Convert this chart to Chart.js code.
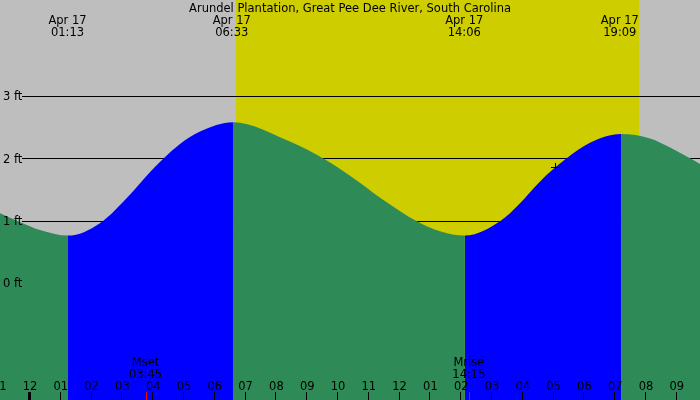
<!DOCTYPE html>
<html>
<head>
<meta charset="utf-8">
<script src="https://cdn.jsdelivr.net/npm/chart.js@4.4.0/dist/chart.umd.min.js"></script>
<style>
html, body { margin: 0; padding: 0; background: rgb(190,190,190); }
#wrap { width: 700px; height: 400px; }
</style>
</head>
<body>
<div id="wrap"><canvas id="chart" width="700" height="400"></canvas></div>
<script>
var title = 'Arundel Plantation, Great Pee Dee River, South Carolina';

// tide curve, hours since midnight Apr 17 / feet
var tideHours = [-0.974, -0.325, 0.325, 1.234, 2.27, 3.25, 3.90, 4.32, 4.87, 5.52, 6.59,
                 8.44, 9.58, 10.39, 11.45, 12.56, 13.31, 14.12,
                 15.26, 15.91, 16.56, 17.37, 18.18, 19.19, 20.13, 20.80, 21.43, 21.753];
var tideFeet  = [1.12, 0.98, 0.85, 0.76, 0.96, 1.42, 1.78, 1.99, 2.23, 2.43, 2.58,
                 2.27, 1.98, 1.72, 1.34, 0.99, 0.83, 0.76,
                 0.99, 1.28, 1.63, 1.98, 2.25, 2.39, 2.32, 2.17, 2.00, 1.91];

var extremeHours = [1.217, 6.55, 14.10, 19.15];
var extremeDates = ['Apr 17', 'Apr 17', 'Apr 17', 'Apr 17'];
var extremeTimes = ['01:13', '06:33', '14:06', '19:09'];

var sunrise = 6.69;
var sunset = 19.77;

var moonHours = [3.75, 14.25];
var moonLabels = ['Mset', 'Mrise'];
var moonTimes = ['03:45', '14:15'];

var hourTicks = [-1, 0, 1, 2, 3, 4, 5, 6, 7, 8, 9, 10, 11, 12, 13, 14, 15, 16, 17, 18, 19, 20, 21];
var hourLabels = ['11', '12', '01', '02', '03', '04', '05', '06', '07', '08', '09', '10', '11',
                  '12', '01', '02', '03', '04', '05', '06', '07', '08', '09'];

var levelTicks = [0, 1, 2, 3];
var levelLabels = ['0 ft', '1 ft', '2 ft', '3 ft'];
var levelLines = [1, 2, 3];

var nowHour = 17.05;
var nowFeet = 1.86;

var GREEN = 'rgb(46,139,87)';
var BLUE = 'rgb(0,0,255)';
var FONT = '11.5px "DejaVu Sans"';

var tidePlugin = {
    id: 'tideDecor',
    beforeDatasetsDraw(chart) {
        var ctx = chart.ctx;
        var x = chart.scales.x, y = chart.scales.y;
        var area = chart.chartArea;
        ctx.save();
        ctx.fillStyle = 'rgb(190,190,190)';
        ctx.fillRect(0, 0, chart.width, chart.height);
        // daylight
        ctx.fillStyle = 'rgb(205,205,0)';
        var sx = Math.round(x.getPixelForValue(sunrise));
        var ex = Math.round(x.getPixelForValue(sunset));
        ctx.fillRect(sx, area.top, ex - sx, area.bottom - area.top);
        // level lines
        ctx.strokeStyle = '#000';
        ctx.lineWidth = 1;
        levelLines.forEach(function(v) {
            var py = Math.round(y.getPixelForValue(v)) + 0.5;
            ctx.beginPath();
            ctx.moveTo(22, py);
            ctx.lineTo(area.right, py);
            ctx.stroke();
        });
        ctx.restore();
    },
    afterDatasetsDraw(chart) {
        var ctx = chart.ctx;
        var x = chart.scales.x, y = chart.scales.y;
        ctx.save();
        ctx.fillStyle = '#000';
        ctx.font = FONT;
        ctx.textBaseline = 'alphabetic';

        ctx.textAlign = 'center';
        ctx.fillText(title, 350, 12);

        extremeHours.forEach(function(h, i) {
            var px = x.getPixelForValue(h);
            ctx.fillText(extremeDates[i], px, 24);
            ctx.fillText(extremeTimes[i], px, 36);
        });

        moonHours.forEach(function(h, i) {
            var px = x.getPixelForValue(h);
            ctx.fillText(moonLabels[i], px, 366);
            ctx.fillText(moonTimes[i], px, 378);
        });

        hourTicks.forEach(function(h, i) {
            var px = x.getPixelForValue(h);
            ctx.fillText(hourLabels[i], px, 390);
            var tx = Math.round(px);
            if (h === 0) {
                ctx.fillRect(tx - 2, 392, 3, 8);
            } else {
                ctx.fillRect(tx - 1, 392, 1, 8);
            }
        });

        ctx.fillStyle = 'rgb(255,0,0)';
        moonHours.forEach(function(h) {
            var tx = Math.round(x.getPixelForValue(h));
            ctx.fillRect(tx, 392, 1, 8);
        });

        ctx.fillStyle = '#000';
        ctx.textAlign = 'left';
        levelTicks.forEach(function(v, i) {
            var py = y.getPixelForValue(v);
            ctx.fillText(levelLabels[i], 3, py + 4.5);
        });

        // current level marker
        var mx = Math.round(x.getPixelForValue(nowHour)) + 0.5;
        var my = Math.round(y.getPixelForValue(nowFeet)) + 0.5;
        ctx.strokeStyle = '#000';
        ctx.lineWidth = 1;
        ctx.beginPath();
        ctx.moveTo(mx - 4.5, my);
        ctx.lineTo(mx + 4.5, my);
        ctx.moveTo(mx, my - 4.5);
        ctx.lineTo(mx, my + 4.5);
        ctx.stroke();
        ctx.restore();
    }
};

var points = tideHours.map(function(h, i) { return {x: h, y: tideFeet[i]}; });

new Chart(document.getElementById('chart').getContext('2d'), {
    type: 'line',
    data: {
        datasets: [{
            label: 'Tide',
            data: points,
            fill: 'start',
            backgroundColor: GREEN,
            borderWidth: 0,
            pointRadius: 0,
            cubicInterpolationMode: 'monotone',
            segment: {
                backgroundColor: function(c) {
                    return c.p1.parsed.y > c.p0.parsed.y ? BLUE : GREEN;
                }
            }
        }]
    },
    options: {
        responsive: false,
        animation: false,
        events: [],
        layout: { padding: 0 },
        scales: {
            x: { type: 'linear', display: false, min: -0.974, max: 21.753 },
            y: { type: 'linear', display: false, min: -1.877, max: 4.54 }
        },
        plugins: {
            legend: { display: false },
            tooltip: { enabled: false }
        }
    },
    plugins: [tidePlugin]
});
</script>
</body>
</html>
